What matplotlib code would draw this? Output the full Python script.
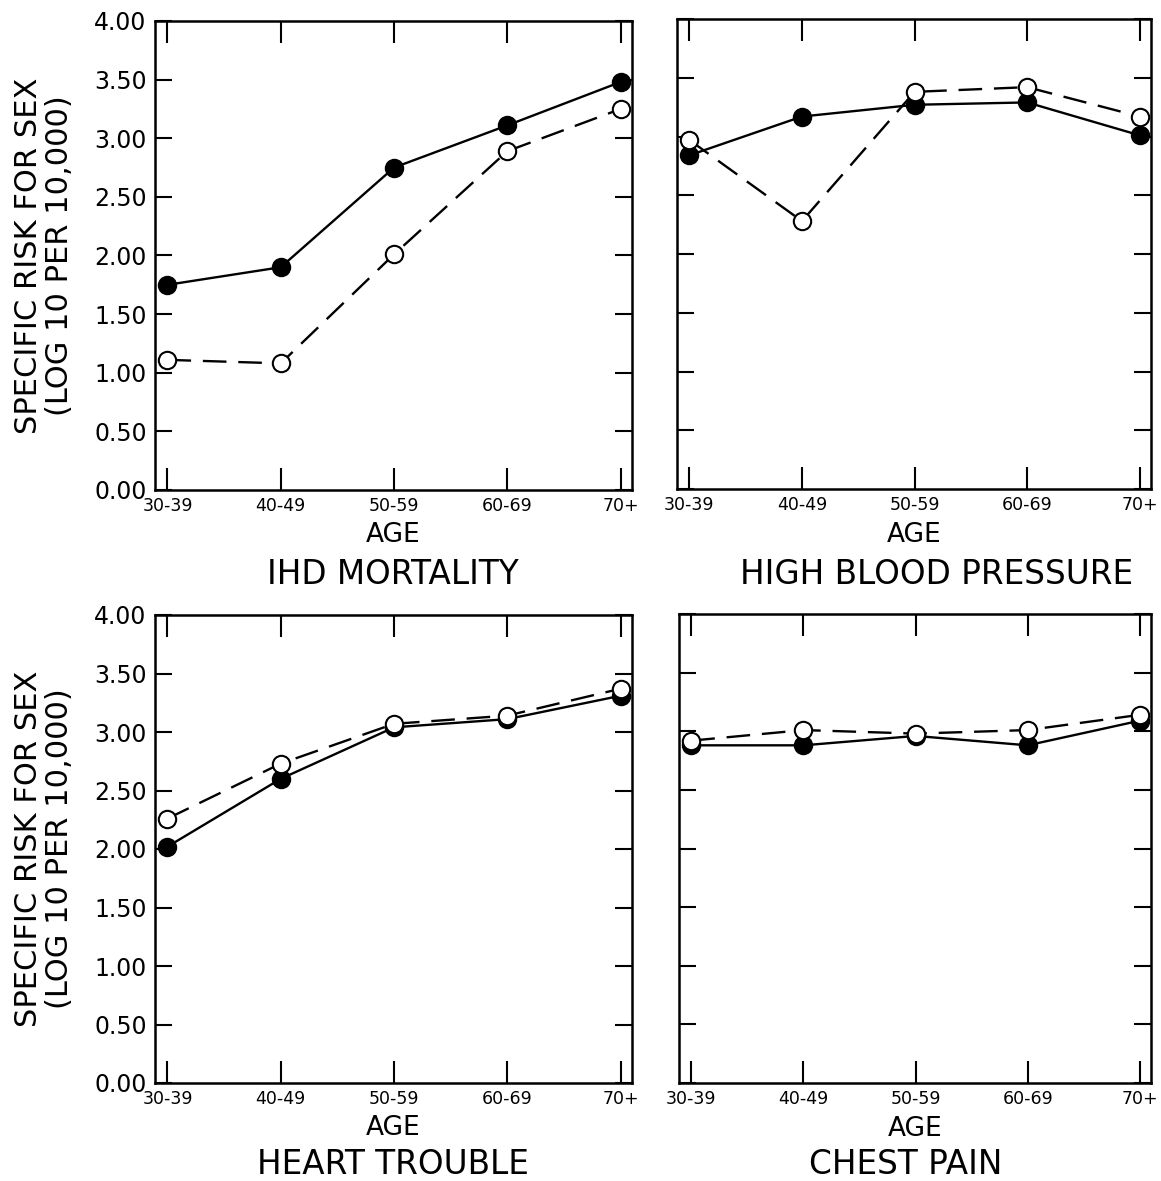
import matplotlib
matplotlib.use("Agg")
import matplotlib.pyplot as plt

plt.rcParams['font.family'] = ['DejaVu Sans']

age_groups = ["30-39", "40-49", "50-59", "60-69", "70+"]
y_ticks = [0.0, 0.5, 1.0, 1.5, 2.0, 2.5, 3.0, 3.5, 4.0]
y_tick_labels = ["0.00", "0.50", "1.00", "1.50", "2.00", "2.50", "3.00", "3.50", "4.00"]

ihd_filled = [1.75, 1.90, 2.75, 3.11, 3.48]
ihd_open = [1.11, 1.08, 2.01, 2.89, 3.25]

hbp_filled = [2.84, 3.17, 3.27, 3.29, 3.01]
hbp_open = [2.97, 2.28, 3.38, 3.42, 3.17]

ht_filled = [2.02, 2.60, 3.04, 3.11, 3.31]
ht_open = [2.26, 2.73, 3.07, 3.14, 3.37]

cp_filled = [2.88, 2.88, 2.96, 2.88, 3.09]
cp_open = [2.92, 3.01, 2.98, 3.01, 3.14]

titles = ["IHD MORTALITY", "HIGH BLOOD PRESSURE", "HEART TROUBLE", "CHEST PAIN"]

W, H = 1161, 1181
fig = plt.figure(figsize=(W / 100, H / 100), dpi=100)
fig.patch.set_facecolor("white")


def px_axes(left, top, right, bottom):
    return fig.add_axes([left / W, 1 - bottom / H, (right - left) / W, (bottom - top) / H])


# (axes, filled, open, title, show y labels, age label y, title y, title x center)
panels = [
    (px_axes(155, 21, 632, 490), ihd_filled, ihd_open, titles[0], True, 535, 574, 393),
    (px_axes(677, 19, 1151, 489), hbp_filled, hbp_open, titles[1], False, 535, 574, 937),
    (px_axes(155, 615, 632, 1083), ht_filled, ht_open, titles[2], True, 1128, 1164, 393),
    (px_axes(679, 614, 1151, 1083), cp_filled, cp_open, titles[3], False, 1129, 1164, 906),
]

x = list(range(len(age_groups)))

for ax, filled, opened, title, show_y, age_y, title_y, title_x in panels:
    ax.plot(x, filled, color="black", lw=1.7, marker="o", markersize=12.5,
            markerfacecolor="black", markeredgecolor="black", markeredgewidth=1.5,
            zorder=3, clip_on=False)
    ax.plot(x, opened, color="black", lw=1.7, dashes=(10, 5), marker="o", markersize=12.5,
            markerfacecolor="white", markeredgecolor="black", markeredgewidth=1.5,
            zorder=4, clip_on=False)
    ax.set_xlim(-0.11, 4.10)
    ax.set_ylim(0, 4.0)
    ax.set_xticks(x)
    ax.set_xticklabels(age_groups, fontsize=12.5)
    ax.set_yticks(y_ticks)
    if show_y:
        ax.set_yticklabels(y_tick_labels, fontsize=17)
    else:
        ax.set_yticklabels([])
    ax.tick_params(axis="x", direction="in", length=16, width=1.5, top=True, bottom=True, pad=5)
    ax.tick_params(axis="y", direction="in", length=12, width=1.5, left=True, right=True, pad=6)
    for s in ax.spines.values():
        s.set_linewidth(1.8)
    bb = ax.get_position()
    cx = (bb.x0 + bb.x1) / 2
    fig.text(cx, 1 - age_y / H, "AGE", ha="center", va="center", fontsize=19)
    fig.text(title_x / W, 1 - title_y / H, title, ha="center", va="center", fontsize=23.5)

for cy in [(20 + 492) / 2, (615 + 1083) / 2]:
    fig.text(29 / W, 1 - cy / H, "SPECIFIC RISK FOR SEX", rotation=90, ha="center", va="center", fontsize=22)
    fig.text(59 / W, 1 - cy / H, "(LOG 10 PER 10,000)", rotation=90, ha="center", va="center", fontsize=22)

fig.savefig("out.png", dpi=100, facecolor="white")
